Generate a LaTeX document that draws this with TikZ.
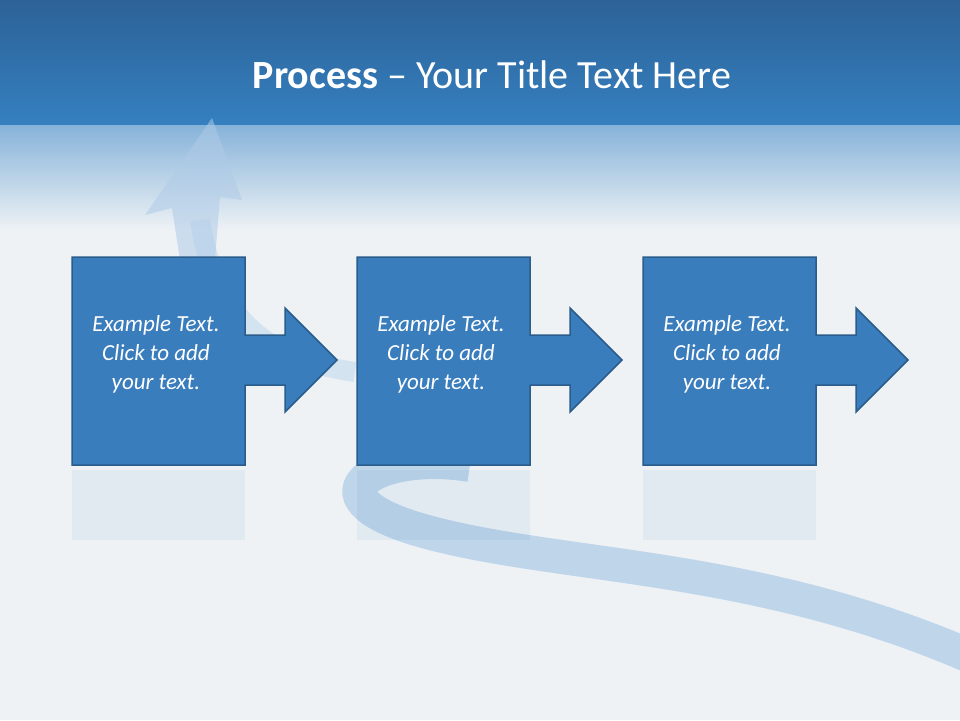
\documentclass[tikz,border=0pt]{standalone}
\usepackage{fontspec}
\setmainfont{Carlito}
\usetikzlibrary{fadings}
\begin{document}
\begin{tikzpicture}[x=1pt,y=-1pt,
  procbox/.style={fill=boxblue,draw=boxedge,line width=1.5pt,line join=miter},
  boxtext/.style={text=white,font=\itshape\fontsize{23}{29}\selectfont,align=center}]
\definecolor{boxblue}{HTML}{3A7DBD}
\definecolor{boxedge}{HTML}{2A5C8C}
\definecolor{topblue}{HTML}{2C6297}
\definecolor{midblue}{HTML}{3580C0}
\definecolor{bg}{HTML}{EEF2F5}
\definecolor{ribbon}{HTML}{C4D9EE}
\useasboundingbox (0,0) rectangle (960,720);
\fill[bg] (0,0) rectangle (960,720);
\shade[top color=topblue,bottom color=midblue] (0,0) rectangle (960,125);
\shade[top color=midblue!60!white,bottom color=bg] (0,125) rectangle (960,230);
% background ribbon arrow
\draw[ribbon!90!boxblue,line width=34pt,opacity=0.85] (990,665) .. controls (760,560) and (560,570) .. (420,530)
  .. controls (300,495) and (380,450) .. (470,465);
\draw[ribbon,line width=20pt,opacity=0.6] (355,372) .. controls (270,360) and (215,320) .. (200,220);
\fill[ribbon!85!boxblue,opacity=0.55] (145,215) -- (212,118) -- (242,200) -- (220,197) -- (215,260) -- (180,260) -- (172,208) -- cycle;
% boxes
\foreach \i/\x in {1/72,2/357,3/643}{
  \pgfmathsetmacro{\r}{\x+173}
  \pgfmathsetmacro{\a}{\x+213}
  \pgfmathsetmacro{\t}{\x+265}
  \fill[boxblue,opacity=0.07] (\x,470) rectangle (\r,540);
  \path[procbox] (\x,257) -- (\r,257) -- (\r,335) -- (\a,335) -- (\a,308) -- (\t,360) -- (\a,412) -- (\a,385) -- (\r,385) -- (\r,465) -- (\x,465) -- cycle;
  \node[boxtext] (b\i) at (\x+84,354) {Example Text.\\Click\ to add\\your text.};
}
\node[text=white,font=\fontsize{40}{46}\selectfont] (title) at (492,75) {\textbf{Process} – Your Title Text Here};
\end{tikzpicture}
\end{document}
